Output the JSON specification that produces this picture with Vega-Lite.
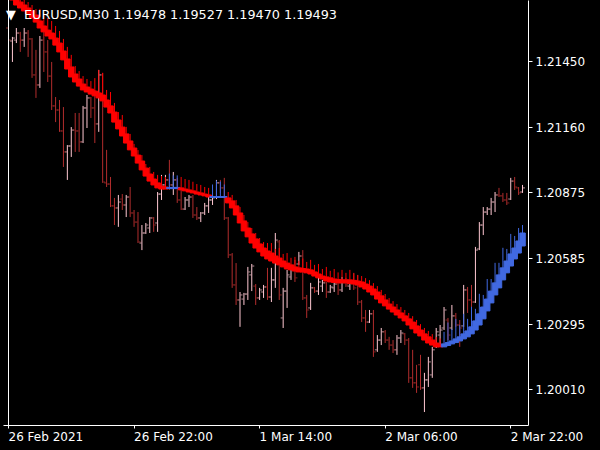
{
"$schema": "https://vega.github.io/schema/vega-lite/v6.json",
"width": 525, "height": 425,
"autosize": "none",
"padding": {"left": 3, "top": 0, "right": 72, "bottom": 25},
"background": "#000000",
"config": {"view": {"stroke": null}, "axis": {"grid": false}},
"title": {"text": "▼\u00a0\u00a0EURUSD,M30\u00a01.19478 1.19527 1.19470 1.19493", "anchor": "start", "frame": "group", "orient": "top", "offset": -22, "dx": 3, "color": "#ffffff", "font": "DejaVu Sans", "fontSize": 12.8, "fontWeight": "normal"},
"data": {"values": [
{"i":0,"o":1.21595,"h":1.21613,"l":1.21529,"c":1.21542,"ho":1.21779,"hc":1.21749,"hh":1.21805},
{"i":1,"o":1.21538,"h":1.21556,"l":1.21446,"c":1.21551,"ho":1.21753,"hc":1.21718,"hh":1.21779},
{"i":2,"o":1.21542,"h":1.21595,"l":1.21529,"c":1.21573,"ho":1.21727,"hc":1.21696,"hh":1.21753},
{"i":3,"o":1.21573,"h":1.21578,"l":1.21490,"c":1.21542,"ho":1.21709,"hc":1.21683,"hh":1.21735},
{"i":4,"o":1.21542,"h":1.21595,"l":1.21512,"c":1.21573,"ho":1.21696,"hc":1.21670,"hh":1.21722},
{"i":5,"o":1.21573,"h":1.21586,"l":1.21468,"c":1.21547,"ho":1.21683,"hc":1.21657,"hh":1.21709},
{"i":6,"o":1.21547,"h":1.21551,"l":1.21376,"c":1.21389,"ho":1.21670,"hc":1.21639,"hh":1.21696},
{"i":7,"o":1.21389,"h":1.21499,"l":1.21288,"c":1.21345,"ho":1.21652,"hc":1.21621,"hh":1.21678},
{"i":8,"o":1.21345,"h":1.21560,"l":1.21332,"c":1.21542,"ho":1.21626,"hc":1.21595,"hh":1.21679},
{"i":9,"o":1.21542,"h":1.21578,"l":1.21402,"c":1.21490,"ho":1.21604,"hc":1.21578,"hh":1.21657},
{"i":10,"o":1.21490,"h":1.21542,"l":1.21358,"c":1.21384,"ho":1.21586,"hc":1.21560,"hh":1.21639},
{"i":11,"o":1.21384,"h":1.21446,"l":1.21235,"c":1.21253,"ho":1.21573,"hc":1.21547,"hh":1.21626},
{"i":12,"o":1.21253,"h":1.21292,"l":1.21182,"c":1.21235,"ho":1.21551,"hc":1.21520,"hh":1.21604},
{"i":13,"o":1.21235,"h":1.21279,"l":1.21139,"c":1.21143,"ho":1.21529,"hc":1.21490,"hh":1.21582},
{"i":14,"o":1.21143,"h":1.21248,"l":1.20985,"c":1.21051,"ho":1.21494,"hc":1.21455,"hh":1.21547},
{"i":15,"o":1.21051,"h":1.21081,"l":1.20928,"c":1.21077,"ho":1.21459,"hc":1.21415,"hh":1.21512},
{"i":16,"o":1.21077,"h":1.21160,"l":1.21029,"c":1.21147,"ho":1.21424,"hc":1.21380,"hh":1.21477},
{"i":17,"o":1.21147,"h":1.21222,"l":1.21051,"c":1.21143,"ho":1.21393,"hc":1.21358,"hh":1.21428},
{"i":18,"o":1.21143,"h":1.21222,"l":1.21051,"c":1.21095,"ho":1.21371,"hc":1.21340,"hh":1.21406},
{"i":19,"o":1.21095,"h":1.21253,"l":1.21090,"c":1.21244,"ho":1.21349,"hc":1.21323,"hh":1.21384},
{"i":20,"o":1.21244,"h":1.21301,"l":1.21156,"c":1.21288,"ho":1.21336,"hc":1.21314,"hh":1.21371},
{"i":21,"o":1.21288,"h":1.21292,"l":1.21200,"c":1.21244,"ho":1.21327,"hc":1.21305,"hh":1.21362},
{"i":22,"o":1.21244,"h":1.21323,"l":1.21090,"c":1.21174,"ho":1.21318,"hc":1.21297,"hh":1.21375},
{"i":23,"o":1.21174,"h":1.21411,"l":1.21139,"c":1.21389,"ho":1.21310,"hc":1.21288,"hh":1.21411},
{"i":24,"o":1.21389,"h":1.21398,"l":1.20915,"c":1.20919,"ho":1.21301,"hc":1.21275,"hh":1.21398},
{"i":25,"o":1.20915,"h":1.21060,"l":1.20897,"c":1.20910,"ho":1.21279,"hc":1.21248,"hh":1.21323},
{"i":26,"o":1.20910,"h":1.20941,"l":1.20809,"c":1.20814,"ho":1.21253,"hc":1.21222,"hh":1.21314},
{"i":27,"o":1.20814,"h":1.20849,"l":1.20730,"c":1.20805,"ho":1.21226,"hc":1.21182,"hh":1.21266},
{"i":28,"o":1.20805,"h":1.20862,"l":1.20722,"c":1.20831,"ho":1.21191,"hc":1.21152,"hh":1.21226},
{"i":29,"o":1.20844,"h":1.20866,"l":1.20796,"c":1.20818,"ho":1.21160,"hc":1.21121,"hh":1.21213},
{"i":30,"o":1.20818,"h":1.20862,"l":1.20765,"c":1.20853,"ho":1.21130,"hc":1.21090,"hh":1.21161},
{"i":31,"o":1.20853,"h":1.20897,"l":1.20765,"c":1.20783,"ho":1.21099,"hc":1.21060,"hh":1.21130},
{"i":32,"o":1.20783,"h":1.20796,"l":1.20722,"c":1.20743,"ho":1.21068,"hc":1.21033,"hh":1.21086},
{"i":33,"o":1.20743,"h":1.20787,"l":1.20651,"c":1.20656,"ho":1.21037,"hc":1.21002,"hh":1.21059},
{"i":34,"o":1.20651,"h":1.20730,"l":1.20620,"c":1.20695,"ho":1.21011,"hc":1.20972,"hh":1.21037},
{"i":35,"o":1.20695,"h":1.20739,"l":1.20691,"c":1.20730,"ho":1.20980,"hc":1.20945,"hh":1.20998},
{"i":36,"o":1.20717,"h":1.20765,"l":1.20695,"c":1.20761,"ho":1.20954,"hc":1.20923,"hh":1.20985},
{"i":37,"o":1.20761,"h":1.20765,"l":1.20700,"c":1.20730,"ho":1.20932,"hc":1.20906,"hh":1.20963},
{"i":38,"o":1.20739,"h":1.20875,"l":1.20700,"c":1.20866,"ho":1.20915,"hc":1.20893,"hh":1.20950},
{"i":39,"o":1.20866,"h":1.20950,"l":1.20840,"c":1.20906,"ho":1.20901,"hc":1.20888,"hh":1.20945},
{"i":40,"o":1.20906,"h":1.20950,"l":1.20897,"c":1.20928,"ho":1.20897,"hc":1.20888,"hh":1.20941},
{"i":41,"o":1.20928,"h":1.21016,"l":1.20884,"c":1.20906,"ho":1.20890,"hc":1.20895,"hh":1.20956},
{"i":42,"o":1.20906,"h":1.20963,"l":1.20862,"c":1.20928,"ho":1.20890,"hc":1.20895,"hh":1.20948},
{"i":43,"o":1.20928,"h":1.20937,"l":1.20827,"c":1.20840,"ho":1.20890,"hc":1.20895,"hh":1.20948},
{"i":44,"o":1.20840,"h":1.20893,"l":1.20796,"c":1.20800,"ho":1.20893,"hc":1.20884,"hh":1.20941},
{"i":45,"o":1.20800,"h":1.20853,"l":1.20796,"c":1.20840,"ho":1.20888,"hc":1.20880,"hh":1.20932},
{"i":46,"o":1.20840,"h":1.20862,"l":1.20809,"c":1.20853,"ho":1.20884,"hc":1.20875,"hh":1.20928},
{"i":47,"o":1.20853,"h":1.20862,"l":1.20761,"c":1.20774,"ho":1.20880,"hc":1.20871,"hh":1.20920},
{"i":48,"o":1.20774,"h":1.20809,"l":1.20752,"c":1.20761,"ho":1.20875,"hc":1.20866,"hh":1.20910},
{"i":49,"o":1.20761,"h":1.20787,"l":1.20743,"c":1.20783,"ho":1.20871,"hc":1.20862,"hh":1.20906},
{"i":50,"o":1.20783,"h":1.20827,"l":1.20774,"c":1.20814,"ho":1.20866,"hc":1.20858,"hh":1.20897},
{"i":51,"o":1.20814,"h":1.20853,"l":1.20783,"c":1.20840,"ho":1.20862,"hc":1.20853,"hh":1.20893},
{"i":52,"o":1.20840,"h":1.20862,"l":1.20818,"c":1.20849,"ho":1.20851,"hc":1.20855,"hh":1.20908},
{"i":53,"o":1.20853,"h":1.20928,"l":1.20844,"c":1.20915,"ho":1.20851,"hc":1.20855,"hh":1.20925},
{"i":54,"o":1.20915,"h":1.20928,"l":1.20871,"c":1.20893,"ho":1.20851,"hc":1.20855,"hh":1.20921},
{"i":55,"o":1.20893,"h":1.20937,"l":1.20752,"c":1.20761,"ho":1.20851,"hc":1.20855,"hh":1.20908},
{"i":56,"o":1.20761,"h":1.20765,"l":1.20585,"c":1.20599,"ho":1.20849,"hc":1.20827,"hh":1.20875},
{"i":57,"o":1.20599,"h":1.20607,"l":1.20454,"c":1.20467,"ho":1.20836,"hc":1.20805,"hh":1.20862},
{"i":58,"o":1.20467,"h":1.20563,"l":1.20379,"c":1.20401,"ho":1.20814,"hc":1.20774,"hh":1.20840},
{"i":59,"o":1.20401,"h":1.20436,"l":1.20283,"c":1.20423,"ho":1.20783,"hc":1.20739,"hh":1.20809},
{"i":60,"o":1.20405,"h":1.20432,"l":1.20379,"c":1.20427,"ho":1.20748,"hc":1.20704,"hh":1.20774},
{"i":61,"o":1.20427,"h":1.20546,"l":1.20401,"c":1.20524,"ho":1.20717,"hc":1.20678,"hh":1.20743},
{"i":62,"o":1.20511,"h":1.20559,"l":1.20440,"c":1.20550,"ho":1.20691,"hc":1.20651,"hh":1.20717},
{"i":63,"o":1.20462,"h":1.20471,"l":1.20379,"c":1.20410,"ho":1.20669,"hc":1.20629,"hh":1.20695},
{"i":64,"o":1.20410,"h":1.20454,"l":1.20401,"c":1.20445,"ho":1.20647,"hc":1.20612,"hh":1.20673},
{"i":65,"o":1.20436,"h":1.20467,"l":1.20410,"c":1.20458,"ho":1.20629,"hc":1.20594,"hh":1.20655},
{"i":66,"o":1.20458,"h":1.20542,"l":1.20401,"c":1.20414,"ho":1.20616,"hc":1.20581,"hh":1.20651},
{"i":67,"o":1.20414,"h":1.20542,"l":1.20392,"c":1.20489,"ho":1.20607,"hc":1.20572,"hh":1.20651},
{"i":68,"o":1.20489,"h":1.20695,"l":1.20454,"c":1.20664,"ho":1.20594,"hc":1.20563,"hh":1.20625},
{"i":69,"o":1.20656,"h":1.20664,"l":1.20401,"c":1.20423,"ho":1.20585,"hc":1.20555,"hh":1.20629},
{"i":70,"o":1.20322,"h":1.20454,"l":1.20278,"c":1.20440,"ho":1.20572,"hc":1.20546,"hh":1.20603},
{"i":71,"o":1.20440,"h":1.20533,"l":1.20366,"c":1.20511,"ho":1.20563,"hc":1.20537,"hh":1.20607},
{"i":72,"o":1.20502,"h":1.20555,"l":1.20489,"c":1.20542,"ho":1.20555,"hc":1.20533,"hh":1.20586},
{"i":73,"o":1.20542,"h":1.20577,"l":1.20480,"c":1.20498,"ho":1.20546,"hc":1.20528,"hh":1.20590},
{"i":74,"o":1.20559,"h":1.20612,"l":1.20555,"c":1.20594,"ho":1.20542,"hc":1.20524,"hh":1.20573},
{"i":75,"o":1.20594,"h":1.20620,"l":1.20401,"c":1.20410,"ho":1.20539,"hc":1.20524,"hh":1.20583},
{"i":76,"o":1.20410,"h":1.20423,"l":1.20322,"c":1.20357,"ho":1.20537,"hc":1.20520,"hh":1.20568},
{"i":77,"o":1.20366,"h":1.20476,"l":1.20357,"c":1.20454,"ho":1.20533,"hc":1.20515,"hh":1.20577},
{"i":78,"o":1.20454,"h":1.20458,"l":1.20432,"c":1.20440,"ho":1.20524,"hc":1.20506,"hh":1.20555},
{"i":79,"o":1.20440,"h":1.20502,"l":1.20423,"c":1.20480,"ho":1.20515,"hc":1.20498,"hh":1.20559},
{"i":80,"o":1.20462,"h":1.20489,"l":1.20436,"c":1.20476,"ho":1.20506,"hc":1.20493,"hh":1.20537},
{"i":81,"o":1.20476,"h":1.20480,"l":1.20410,"c":1.20436,"ho":1.20502,"hc":1.20484,"hh":1.20546},
{"i":82,"o":1.20436,"h":1.20467,"l":1.20432,"c":1.20458,"ho":1.20498,"hc":1.20480,"hh":1.20529},
{"i":83,"o":1.20454,"h":1.20480,"l":1.20436,"c":1.20471,"ho":1.20493,"hc":1.20478,"hh":1.20537},
{"i":84,"o":1.20471,"h":1.20489,"l":1.20423,"c":1.20445,"ho":1.20491,"hc":1.20476,"hh":1.20522},
{"i":85,"o":1.20445,"h":1.20502,"l":1.20436,"c":1.20484,"ho":1.20489,"hc":1.20476,"hh":1.20533},
{"i":86,"o":1.20484,"h":1.20498,"l":1.20458,"c":1.20467,"ho":1.20489,"hc":1.20476,"hh":1.20520},
{"i":87,"o":1.20462,"h":1.20489,"l":1.20445,"c":1.20476,"ho":1.20489,"hc":1.20473,"hh":1.20533},
{"i":88,"o":1.20476,"h":1.20520,"l":1.20445,"c":1.20454,"ho":1.20487,"hc":1.20471,"hh":1.20518},
{"i":89,"o":1.20467,"h":1.20511,"l":1.20379,"c":1.20392,"ho":1.20484,"hc":1.20467,"hh":1.20510},
{"i":90,"o":1.20392,"h":1.20401,"l":1.20304,"c":1.20322,"ho":1.20480,"hc":1.20458,"hh":1.20506},
{"i":91,"o":1.20322,"h":1.20357,"l":1.20261,"c":1.20304,"ho":1.20471,"hc":1.20449,"hh":1.20497},
{"i":92,"o":1.20304,"h":1.20357,"l":1.20300,"c":1.20340,"ho":1.20462,"hc":1.20436,"hh":1.20488},
{"i":93,"o":1.20340,"h":1.20357,"l":1.20151,"c":1.20173,"ho":1.20449,"hc":1.20423,"hh":1.20475},
{"i":94,"o":1.20182,"h":1.20247,"l":1.20173,"c":1.20225,"ho":1.20436,"hc":1.20405,"hh":1.20462},
{"i":95,"o":1.20225,"h":1.20278,"l":1.20203,"c":1.20261,"ho":1.20419,"hc":1.20388,"hh":1.20445},
{"i":96,"o":1.20261,"h":1.20269,"l":1.20212,"c":1.20225,"ho":1.20401,"hc":1.20375,"hh":1.20427},
{"i":97,"o":1.20225,"h":1.20239,"l":1.20182,"c":1.20203,"ho":1.20383,"hc":1.20361,"hh":1.20409},
{"i":98,"o":1.20203,"h":1.20225,"l":1.20168,"c":1.20182,"ho":1.20370,"hc":1.20348,"hh":1.20396},
{"i":99,"o":1.20182,"h":1.20247,"l":1.20160,"c":1.20234,"ho":1.20357,"hc":1.20335,"hh":1.20383},
{"i":100,"o":1.20234,"h":1.20269,"l":1.20212,"c":1.20256,"ho":1.20344,"hc":1.20322,"hh":1.20370},
{"i":101,"o":1.20252,"h":1.20256,"l":1.20203,"c":1.20225,"ho":1.20331,"hc":1.20309,"hh":1.20357},
{"i":102,"o":1.20225,"h":1.20234,"l":1.20037,"c":1.20059,"ho":1.20318,"hc":1.20291,"hh":1.20344},
{"i":103,"o":1.20059,"h":1.20182,"l":1.20015,"c":1.20037,"ho":1.20304,"hc":1.20274,"hh":1.20330},
{"i":104,"o":1.20037,"h":1.20116,"l":1.19993,"c":1.20019,"ho":1.20287,"hc":1.20256,"hh":1.20313},
{"i":105,"o":1.20116,"h":1.20160,"l":1.20006,"c":1.20015,"ho":1.20269,"hc":1.20243,"hh":1.20295},
{"i":106,"o":1.20015,"h":1.20081,"l":1.19909,"c":1.20050,"ho":1.20252,"hc":1.20225,"hh":1.20278},
{"i":107,"o":1.20050,"h":1.20151,"l":1.20019,"c":1.20129,"ho":1.20239,"hc":1.20212,"hh":1.20265},
{"i":108,"o":1.20072,"h":1.20195,"l":1.20059,"c":1.20182,"ho":1.20225,"hc":1.20203,"hh":1.20251},
{"i":109,"o":1.20203,"h":1.20278,"l":1.20190,"c":1.20261,"ho":1.20212,"hc":1.20195,"hh":1.20238},
{"i":110,"o":1.20247,"h":1.20291,"l":1.20195,"c":1.20269,"ho":1.20206,"hc":1.20195,"hh":1.20232},
{"i":111,"o":1.20278,"h":1.20370,"l":1.20269,"c":1.20357,"ho":1.20195,"hc":1.20208,"hh":1.20261},
{"i":112,"o":1.20313,"h":1.20322,"l":1.20225,"c":1.20247,"ho":1.20201,"hc":1.20214,"hh":1.20302},
{"i":113,"o":1.20278,"h":1.20379,"l":1.20269,"c":1.20331,"ho":1.20208,"hc":1.20221,"hh":1.20274},
{"i":114,"o":1.20331,"h":1.20344,"l":1.20283,"c":1.20291,"ho":1.20214,"hc":1.20230,"hh":1.20318},
{"i":115,"o":1.20291,"h":1.20313,"l":1.20195,"c":1.20278,"ho":1.20221,"hc":1.20239,"hh":1.20292},
{"i":116,"o":1.20287,"h":1.20467,"l":1.20283,"c":1.20445,"ho":1.20230,"hc":1.20252,"hh":1.20340},
{"i":117,"o":1.20445,"h":1.20458,"l":1.20344,"c":1.20401,"ho":1.20239,"hc":1.20265,"hh":1.20318},
{"i":118,"o":1.20401,"h":1.20467,"l":1.20335,"c":1.20392,"ho":1.20252,"hc":1.20283,"hh":1.20371},
{"i":119,"o":1.20392,"h":1.20634,"l":1.20388,"c":1.20620,"ho":1.20269,"hc":1.20309,"hh":1.20362},
{"i":120,"o":1.20625,"h":1.20743,"l":1.20620,"c":1.20730,"ho":1.20291,"hc":1.20340,"hh":1.20428},
{"i":121,"o":1.20730,"h":1.20809,"l":1.20686,"c":1.20787,"ho":1.20318,"hc":1.20370,"hh":1.20423},
{"i":122,"o":1.20787,"h":1.20809,"l":1.20774,"c":1.20800,"ho":1.20353,"hc":1.20405,"hh":1.20493},
{"i":123,"o":1.20800,"h":1.20849,"l":1.20774,"c":1.20831,"ho":1.20388,"hc":1.20440,"hh":1.20493},
{"i":124,"o":1.20831,"h":1.20875,"l":1.20787,"c":1.20862,"ho":1.20423,"hc":1.20476,"hh":1.20564},
{"i":125,"o":1.20862,"h":1.20893,"l":1.20853,"c":1.20858,"ho":1.20454,"hc":1.20511,"hh":1.20564},
{"i":126,"o":1.20858,"h":1.20871,"l":1.20831,"c":1.20840,"ho":1.20489,"hc":1.20542,"hh":1.20630},
{"i":127,"o":1.20840,"h":1.20871,"l":1.20818,"c":1.20827,"ho":1.20520,"hc":1.20572,"hh":1.20625},
{"i":128,"o":1.20844,"h":1.20937,"l":1.20840,"c":1.20923,"ho":1.20550,"hc":1.20603,"hh":1.20691},
{"i":129,"o":1.20923,"h":1.20941,"l":1.20884,"c":1.20897,"ho":1.20581,"hc":1.20629,"hh":1.20682},
{"i":130,"o":1.20893,"h":1.20897,"l":1.20862,"c":1.20871,"ho":1.20607,"hc":1.20660,"hh":1.20717},
{"i":131,"o":1.20875,"h":1.20906,"l":1.20871,"c":1.20893,"ho":1.20638,"hc":1.20695,"hh":1.20730}
]},
"layer": [
{"mark": {"type": "rule", "strokeWidth": 1, "xOffset": 0.5, "clip": true},
 "encoding": {
  "x": {"field": "i", "type": "quantitative", "title": null,
        "scale": {"domain": [0, 131.25], "nice": false, "zero": false},
        "axis": {"values": [0, 32, 64, 96, 128],
                 "labelExpr": "datum.value == 0 ? '26 Feb 2021' : datum.value == 32 ? '26 Feb 22:00' : datum.value == 64 ? '1 Mar 14:00' : datum.value == 96 ? '2 Mar 06:00' : '2 Mar 22:00'",
                 "labelAlign": "left", "labelBaseline": "top", "labelPadding": 3, "tickSize": 3,
                 "tickColor": "#ffffff", "domainColor": "#ffffff", "labelColor": "#ffffff",
                 "labelFont": "DejaVu Sans", "labelFontSize": 12, "labelOverlap": false, "labelBound": false, "labelFlush": false,
                 "grid": false, "title": null}},
  "y": {"field": "l", "type": "quantitative", "title": null,
        "scale": {"domain": [1.19852, 1.21718], "nice": false, "zero": false},
        "axis": {"orient": "right", "values": [1.2001, 1.20295, 1.20585, 1.20875, 1.2116, 1.2145], "format": ".5f",
                 "tickSize": 4, "labelPadding": 3, "tickColor": "#ffffff", "domainColor": "#ffffff", "labelColor": "#ffffff",
                 "labelFont": "DejaVu Sans", "labelFontSize": 12, "labelOverlap": false, "grid": false, "title": null}},
  "y2": {"field": "h"},
  "color": {"condition": {"test": "datum.c > datum.o", "value": "#FFC8D2"}, "value": "#B22D2D"}
 }},
{"mark": {"type": "tick", "orient": "horizontal", "size": 2, "thickness": 1, "xOffset": -1, "clip": true},
 "encoding": {
  "x": {"field": "i", "type": "quantitative", "title": null},
  "y": {"field": "o", "type": "quantitative", "title": null},
  "color": {"condition": {"test": "datum.c > datum.o", "value": "#FFC8D2"}, "value": "#B22D2D"}
 }},
{"mark": {"type": "tick", "orient": "horizontal", "size": 2, "thickness": 1, "xOffset": 2, "clip": true},
 "encoding": {
  "x": {"field": "i", "type": "quantitative", "title": null},
  "y": {"field": "c", "type": "quantitative", "title": null},
  "color": {"condition": {"test": "datum.c > datum.o", "value": "#FFC8D2"}, "value": "#B22D2D"}
 }},
{"mark": {"type": "rule", "strokeWidth": 1, "xOffset": 0.5, "clip": true},
 "encoding": {
  "x": {"field": "i", "type": "quantitative", "title": null},
  "y": {"field": "hh", "type": "quantitative", "title": null},
  "y2": {"field": "ho"},
  "color": {"condition": {"test": "datum.hc > datum.ho", "value": "#4169E1"}, "value": "#FF0000"}
 }},
{"mark": {"type": "bar", "width": 5.5, "strokeWidth": 1, "xOffset": 0.5, "clip": true},
 "encoding": {
  "x": {"field": "i", "type": "quantitative", "title": null},
  "y": {"field": "ho", "type": "quantitative", "title": null},
  "y2": {"field": "hc"},
  "fill": {"condition": {"test": "datum.hc > datum.ho", "value": "#4169E1"}, "value": "#FF0000"},
  "stroke": {"condition": {"test": "datum.hc > datum.ho", "value": "#4169E1"}, "value": "#FF0000"}
 }},
{"mark": {"type": "rule", "color": "#ffffff", "strokeWidth": 1, "xOffset": 0.5},
 "encoding": {"x": {"datum": 0}}}
]
}
